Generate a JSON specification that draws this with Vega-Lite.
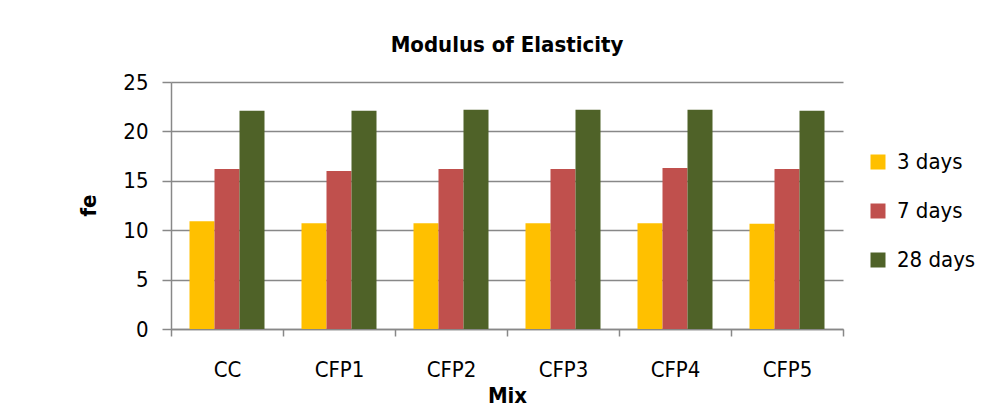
{
  "$schema": "https://vega.github.io/schema/vega-lite/v6.json",
  "autosize": {"type": "none"},
  "width": 672,
  "height": 247,
  "padding": {"left": 171, "top": 82, "right": 143, "bottom": 82},
  "background": "white",
  "title": {
    "text": "Modulus of Elasticity",
    "font": "DejaVu Sans Condensed, Liberation Sans, sans-serif",
    "fontSize": 22,
    "fontWeight": "bold",
    "color": "black",
    "anchor": "middle",
    "frame": "group",
    "offset": 14
  },
  "data": {
    "values": [
      {"mix": "CC", "age": "3 days", "value": 10.9},
      {"mix": "CC", "age": "7 days", "value": 16.2},
      {"mix": "CC", "age": "28 days", "value": 22.1},
      {"mix": "CFP1", "age": "3 days", "value": 10.7},
      {"mix": "CFP1", "age": "7 days", "value": 16.0},
      {"mix": "CFP1", "age": "28 days", "value": 22.1},
      {"mix": "CFP2", "age": "3 days", "value": 10.7},
      {"mix": "CFP2", "age": "7 days", "value": 16.2},
      {"mix": "CFP2", "age": "28 days", "value": 22.2},
      {"mix": "CFP3", "age": "3 days", "value": 10.7},
      {"mix": "CFP3", "age": "7 days", "value": 16.2},
      {"mix": "CFP3", "age": "28 days", "value": 22.2},
      {"mix": "CFP4", "age": "3 days", "value": 10.7},
      {"mix": "CFP4", "age": "7 days", "value": 16.3},
      {"mix": "CFP4", "age": "28 days", "value": 22.2},
      {"mix": "CFP5", "age": "3 days", "value": 10.65},
      {"mix": "CFP5", "age": "7 days", "value": 16.2},
      {"mix": "CFP5", "age": "28 days", "value": 22.1}
    ]
  },
  "mark": {"type": "bar"},
  "encoding": {
    "x": {
      "field": "mix",
      "type": "nominal",
      "sort": ["CC", "CFP1", "CFP2", "CFP3", "CFP4", "CFP5"],
      "scale": {"paddingInner": 0, "paddingOuter": 0},
      "axis": {
        "title": "Mix",
        "titleFont": "DejaVu Sans Condensed, Liberation Sans, sans-serif",
        "titleFontSize": 22,
        "titleFontWeight": "bold",
        "titleColor": "black",
        "titleX": 336,
        "titleY": 66,
        "titleBaseline": "middle",
        "titleAlign": "center",
        "tickBand": "extent",
        "tickSize": 7,
        "tickColor": "#888888",
        "tickWidth": 1.5,
        "domainColor": "#888888",
        "domainWidth": 1.5,
        "labelAngle": 0,
        "labelFont": "DejaVu Sans Condensed, Liberation Sans, sans-serif",
        "labelFontSize": 22,
        "labelColor": "black",
        "labelPadding": 23,
        "grid": false
      }
    },
    "xOffset": {
      "field": "age",
      "type": "nominal",
      "sort": ["3 days", "7 days", "28 days"],
      "scale": {"paddingInner": 0, "paddingOuter": 0.74}
    },
    "y": {
      "field": "value",
      "type": "quantitative",
      "scale": {"domain": [0, 25]},
      "axis": {
        "title": "fe",
        "titleFont": "DejaVu Sans Condensed, Liberation Sans, sans-serif",
        "titleFontSize": 22,
        "titleFontWeight": "bold",
        "titleColor": "black",
        "titleAngle": -90,
        "titleX": -83,
        "titleY": 123,
        "titleAlign": "center",
        "titleBaseline": "middle",
        "values": [0, 5, 10, 15, 20, 25],
        "tickSize": 9,
        "tickColor": "#888888",
        "tickWidth": 1.5,
        "domainColor": "#888888",
        "domainWidth": 1.5,
        "grid": true,
        "gridColor": "#888888",
        "gridWidth": 1.5,
        "labelFont": "DejaVu Sans Condensed, Liberation Sans, sans-serif",
        "labelFontSize": 22,
        "labelColor": "black",
        "labelPadding": 14
      }
    },
    "color": {
      "field": "age",
      "type": "nominal",
      "sort": ["3 days", "7 days", "28 days"],
      "scale": {
        "domain": ["3 days", "7 days", "28 days"],
        "range": ["#FFC000", "#C0504D", "#4F6228"]
      },
      "legend": {
        "title": null,
        "orient": "none",
        "legendX": 696,
        "legendY": 69,
        "padding": 0,
        "symbolType": "square",
        "symbolSize": 225,
        "symbolStrokeWidth": 0,
        "labelFont": "DejaVu Sans Condensed, Liberation Sans, sans-serif",
        "labelFontSize": 22,
        "labelColor": "black",
        "labelOffset": 8,
        "rowPadding": 27
      }
    }
  },
  "config": {
    "view": {"stroke": null},
    "axis": {"gridOpacity": 1}
  }
}
